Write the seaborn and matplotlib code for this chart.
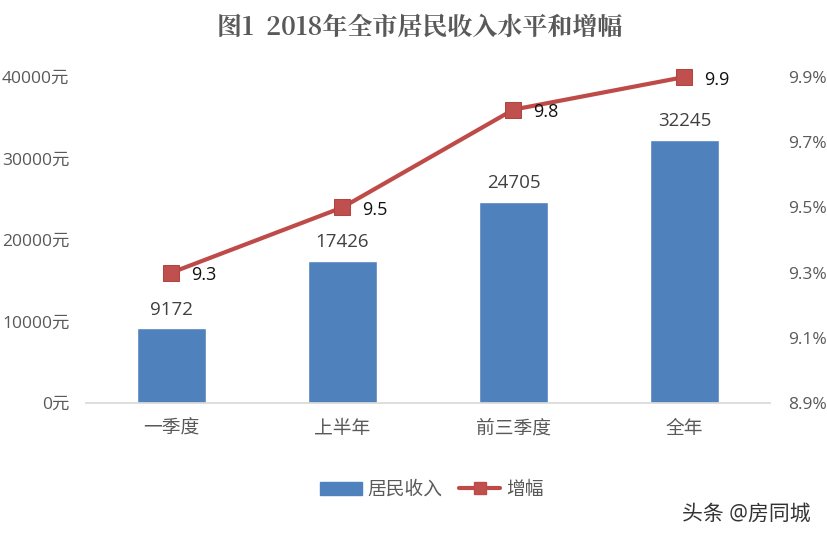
import numpy as np
import pandas as pd
import matplotlib
matplotlib.use("Agg")
import matplotlib.pyplot as plt
import seaborn as sns
from matplotlib.lines import Line2D
from matplotlib.patches import Patch

categories = ["一季度", "上半年", "前三季度", "全年"]
income = [9172, 17426, 24705, 32245]
growth = [9.3, 9.5, 9.8, 9.9]
left_ticks = [0, 10000, 20000, 30000, 40000]
right_ticks = [8.9, 9.1, 9.3, 9.5, 9.7, 9.9]

sns.set_theme(style="white")
plt.rcParams['font.family'] = ['Open Sans', 'Noto Sans CJK SC', 'DejaVu Sans']

df = pd.DataFrame({"cat": categories, "income": income, "growth": growth})

fig = plt.figure(figsize=(8.28, 5.40), dpi=100)
ax = fig.add_axes([86 / 828, 1 - 403 / 540, (770 - 86) / 828, (403 - 77) / 540])

sns.barplot(data=df, x="cat", y="income", color="#4f81bd", saturation=1, width=0.4, ax=ax)
ax.set_xlim(-0.5, 3.5)
ax.set_ylim(0, 40000)
ax.set_xlabel("")
ax.set_ylabel("")
ax.set_yticks(left_ticks)
ax.set_yticklabels([f"{v}元" for v in left_ticks], fontsize=12.5, color="#595959")
ax.tick_params(axis="x", labelsize=13.5, labelcolor="#595959", length=0, pad=12)
ax.tick_params(axis="y", length=0, pad=12)
for s in ["top", "left", "right"]:
    ax.spines[s].set_visible(False)
ax.spines["bottom"].set_color("#d9d9d9")

for i, v in enumerate(income):
    ax.annotate(str(v), (i, v), xytext=(0, 7), textcoords="offset points",
                ha="center", va="bottom", fontsize=13.5, color="#404040")

ax2 = ax.twinx()
sns.lineplot(data=df, x="cat", y="growth", color="#be4b48", linewidth=3, marker="s",
             markersize=11, markerfacecolor="#c0504d", markeredgecolor="#b04542",
             ax=ax2, legend=False, sort=False, clip_on=False)
ax2.set_ylim(8.9, 9.9)
ax2.set_ylabel("")
ax2.set_yticks(right_ticks)
ax2.set_yticklabels([f"{v:.1f}%" for v in right_ticks], fontsize=12.5, color="#595959")
ax2.tick_params(axis="y", length=0, pad=13)
for s in ["top", "left", "right", "bottom"]:
    ax2.spines[s].set_visible(False)

for i, v in enumerate(growth):
    ax2.annotate(str(v), (i, v), xytext=(14, -2), textcoords="offset points",
                 ha="left", va="center", fontsize=13, color="#111111", annotation_clip=False)

fig.text(420 / 828, 1 - 28 / 540, "图1  2018年全市居民收入水平和增幅", ha="center", va="center",
         fontsize=18, fontweight="bold", color="#595959",
         family=['Noto Serif CJK SC', 'Noto Sans CJK SC', 'DejaVu Sans'])

handles = [Patch(color="#4f81bd"),
           Line2D([], [], color="#be4b48", lw=3, marker="s", markersize=8, markerfacecolor="#c0504d")]
fig.legend(handles, ["居民收入", "增幅"], loc="center", bbox_to_anchor=(432 / 828, 1 - 490 / 540), ncol=2,
           frameon=False, fontsize=13.5, labelcolor="#595959", handlelength=2.2, columnspacing=0.9,
           handletextpad=0.3)

fig.text(682 / 828, 1 - 514 / 540, "头条 @房同城", ha="left", va="center", fontsize=15, color="#333333")

fig.savefig("out.png", dpi=100)
